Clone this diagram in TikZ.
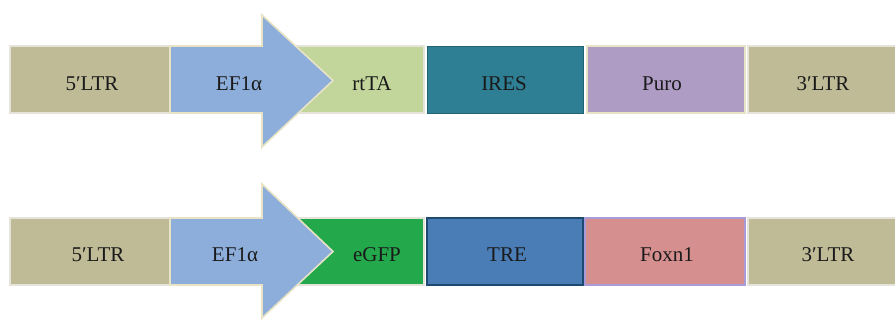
\documentclass[tikz,border=0pt]{standalone}
\usepackage{fontspec}
\setmainfont{Liberation Serif}
\definecolor{ltr}{HTML}{BFBB97}
\definecolor{efblue}{HTML}{8DAEDB}
\definecolor{rtta}{HTML}{C2D69C}
\definecolor{ires}{HTML}{2F7F94}
\definecolor{iresline}{HTML}{1F6374}
\definecolor{puro}{HTML}{AE9CC5}
\definecolor{egfp}{HTML}{23A94C}
\definecolor{tre}{HTML}{4A7DB5}
\definecolor{treline}{HTML}{1E4A72}
\definecolor{foxn}{HTML}{D48F8E}
\definecolor{foxnline}{HTML}{A99BD6}
\definecolor{segline}{HTML}{E6E4DA}
\definecolor{arrline}{HTML}{E9E3C6}
\definecolor{txt}{HTML}{1A1A1A}
\begin{document}
\begin{tikzpicture}[x=1pt,y=-1pt,
  seg/.style={rectangle, inner sep=0pt, draw=segline, line width=1.4pt, minimum height=67pt},
  arrowshape/.style={fill=efblue, draw=arrline, line width=1.6pt, line join=miter},
  lbl/.style={anchor=base, text=txt, inner sep=0pt, font=\fontsize{21}{21}\selectfont}]
\useasboundingbox (0,0) rectangle (895,322);
% ---------- row 1 ----------
\node[seg, fill=ltr, minimum width=160pt] (ltrA) at (90,79.5) {};
\node[seg, fill=rtta, minimum width=162pt] (rtta) at (343,79.5) {};
\node[seg, fill=ires, draw=iresline, line width=1pt, minimum width=156pt] (ires) at (505,79.5) {};
\node[seg, fill=puro, draw=arrline, minimum width=158pt] (puro) at (666,79.5) {};
\node[seg, fill=ltr, minimum width=150pt] (ltrB) at (823,79.5) {};
\draw[arrowshape] (170,46) -- (262,46) -- (262,15) -- (333,80.5) -- (262,147) -- (262,113) -- (170,113) -- cycle;
\node[lbl] (t1) at (92,90) {5′LTR};
\node[lbl] (t2) at (239,90) {EF1α};
\node[lbl] (t3) at (372,90) {rtTA};
\node[lbl] (t4) at (504,90) {IRES};
\node[lbl] (t5) at (662,90) {Puro};
\node[lbl] (t6) at (823,90) {3′LTR};
% ---------- row 2 ----------
\node[seg, fill=ltr, minimum width=160pt] (ltrC) at (90,251.5) {};
\node[seg, fill=egfp, minimum width=162pt] (egfp) at (343,251.5) {};
\node[seg, fill=tre, draw=treline, line width=1.4pt, minimum width=156pt] (tre) at (505,251.5) {};
\node[seg, fill=foxn, draw=foxnline, minimum width=160pt] (foxn) at (665,251.5) {};
\node[seg, fill=ltr, minimum width=150pt] (ltrD) at (823,251.5) {};
\draw[arrowshape] (170,218) -- (262,218) -- (262,184) -- (333,251.5) -- (262,318) -- (262,285) -- (170,285) -- cycle;
\node[lbl] (u1) at (98,261) {5′LTR};
\node[lbl] (u2) at (235,261) {EF1α};
\node[lbl] (u3) at (377,261) {eGFP};
\node[lbl] (u4) at (507,261) {TRE};
\node[lbl] (u5) at (667,261) {Foxn1};
\node[lbl] (u6) at (828,261) {3′LTR};
\end{tikzpicture}
\end{document}
